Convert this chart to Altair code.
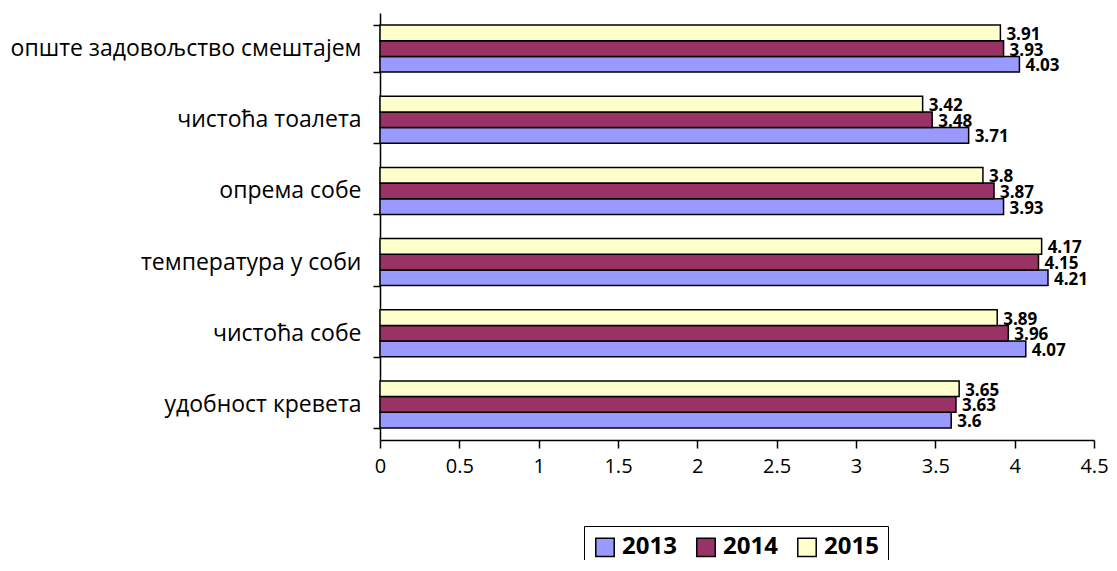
import altair as alt
import pandas as pd

categories = ["опште задовољство смештајем", "чистоћа тоалета", "опрема собе",
              "температура у соби", "чистоћа собе", "удобност кревета"]
years = ["2013", "2014", "2015"]
v2013 = [4.03, 3.71, 3.93, 4.21, 4.07, 3.6]
v2014 = [3.93, 3.48, 3.87, 4.15, 3.96, 3.63]
v2015 = [3.91, 3.42, 3.8, 4.17, 3.89, 3.65]
colors = ["#9999FF", "#993366", "#FFFFCC"]

rows = []
for yr, vals in zip(years, [v2013, v2014, v2015]):
    for c, v in zip(categories, vals):
        rows.append({"cat": c, "year": yr, "value": v, "label": f"{v:g}"})
df = pd.DataFrame(rows)

FONT = "Open Sans"

y_enc = alt.Y("cat:N", sort=categories, title=None,
              scale=alt.Scale(paddingInner=0.34, paddingOuter=0.17),
              axis=alt.Axis(tickBand="extent", labelFontSize=23, labelFont=FONT,
                            labelColor="black", domainColor="black", tickColor="black",
                            tickSize=7, labelPadding=12, domainWidth=1.5, tickWidth=1.5,
                            labelLimit=400))
yoff = alt.YOffset("year:N", sort=["2015", "2014", "2013"], scale=alt.Scale(paddingInner=0))
x_enc = alt.X("value:Q", title=None,
              scale=alt.Scale(domain=[0, 4.5], nice=False),
              axis=alt.Axis(values=[0, 0.5, 1, 1.5, 2, 2.5, 3, 3.5, 4, 4.5], grid=False,
                            format="~g",
                            labelFontSize=20, labelFont=FONT, labelColor="black",
                            domainColor="black", tickColor="black", tickSize=8,
                            labelPadding=8, domainWidth=1.5, tickWidth=1.5,
                            labelFlush=False, labelOverlap=False))

base = alt.Chart(df).encode(y=y_enc, yOffset=yoff, x=x_enc)

bars = base.mark_bar(stroke="black", strokeWidth=1.5, cornerRadius=0).encode(
    color=alt.Color("year:N", scale=alt.Scale(domain=years, range=colors), title=None,
                    legend=alt.Legend(orient="none", legendX=204, legendY=513,
                                      direction="horizontal", strokeColor="black",
                                      padding=9, symbolType="square", symbolSize=340,
                                      symbolStrokeColor="black", symbolStrokeWidth=1.5,
                                      labelFontSize=24, labelFont=FONT, labelFontWeight="bold",
                                      labelColor="black", columnPadding=16,
                                      labelOffset=5, symbolOpacity=1))
)

text = base.mark_text(align="left", baseline="middle", dx=6, dy=2, fontSize=17,
                      fontWeight="bold", font=FONT, color="black").encode(text="label:N")

chart = (bars + text).properties(
    width=714, height=427,
    autosize=alt.AutoSizeParams(type="none"),
    padding={"left": 372, "top": 5, "right": 15, "bottom": 120},
).configure_view(stroke=None)

chart.save("out.html", embed_options={"renderer": "svg", "actions": False})
